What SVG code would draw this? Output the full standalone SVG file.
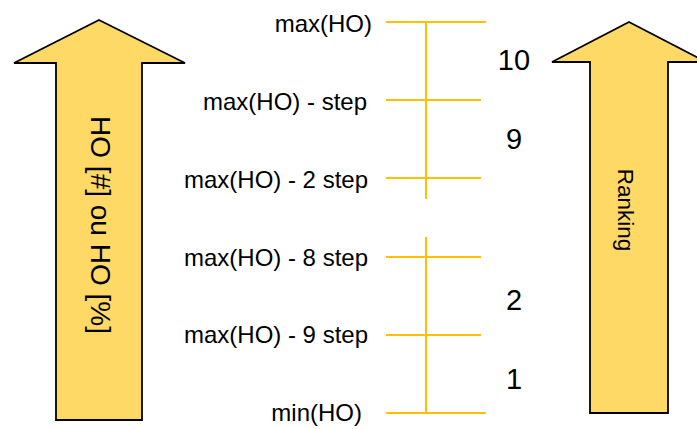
<svg xmlns="http://www.w3.org/2000/svg" width="697" height="429" viewBox="0 0 697 429">
  <style>
    .arrow { fill: #FFD966; stroke: #000000; stroke-width: 1.8; stroke-linejoin: miter; }
    .scale { stroke: #FFC000; stroke-width: 2; fill: none; }
    .lbl { font-family: "Liberation Sans", Arial, sans-serif; font-size: 24px; fill: #000000; text-anchor: end; }
    .num { font-family: "Liberation Sans", Arial, sans-serif; font-size: 29px; fill: #000000; text-anchor: middle; }
    .vert { font-family: "Liberation Sans", Arial, sans-serif; fill: #000000; text-anchor: middle; }
  </style>
  <rect width="697" height="429" fill="#ffffff"/>

  <!-- Left block arrow: quantity axis -->
  <g id="arrow-ho">
    <polygon class="arrow" points="99,20 185,63 142,63 142,420 56,420 56,63 14,63"/>
    <text class="vert" font-size="28" transform="translate(99,225) rotate(90)" x="0" y="8">HO [#] ou HO [%]</text>
  </g>

  <!-- Right block arrow: ranking axis -->
  <g id="arrow-ranking">
    <polygon class="arrow" points="629,22 706,62 668,62 668,413 590,413 590,62 552,62"/>
    <text class="vert" font-size="22.5" transform="translate(624,210) rotate(90)" x="0" y="6.5">Ranking</text>
  </g>

  <!-- Graduated scale -->
  <g id="scale-lines">
    <line class="scale" x1="426" y1="22" x2="426" y2="199"/>
    <line class="scale" x1="426" y1="237" x2="426" y2="413"/>
    <line class="scale" x1="386" y1="22" x2="486" y2="22"/>
    <line class="scale" x1="386" y1="100" x2="481" y2="100"/>
    <line class="scale" x1="386" y1="178" x2="481" y2="178"/>
    <line class="scale" x1="386" y1="257" x2="481" y2="257"/>
    <line class="scale" x1="386" y1="335" x2="481" y2="335"/>
    <line class="scale" x1="386" y1="413" x2="486" y2="413"/>
  </g>

  <!-- Tick labels -->
  <g id="tick-max"><text class="lbl" x="372" y="32">max(HO)</text></g>
  <g id="tick-step1"><text class="lbl" x="367" y="110">max(HO) - step</text></g>
  <g id="tick-step2"><text class="lbl" x="368" y="188">max(HO) - 2 step</text></g>
  <g id="tick-step8"><text class="lbl" x="368" y="266">max(HO) - 8 step</text></g>
  <g id="tick-step9"><text class="lbl" x="368" y="343">max(HO) - 9 step</text></g>
  <g id="tick-min"><text class="lbl" x="362" y="421">min(HO)</text></g>

  <!-- Rank numbers -->
  <g id="rank-10"><text class="num" x="514" y="70">10</text></g>
  <g id="rank-9"><text class="num" x="514" y="149">9</text></g>
  <g id="rank-2"><text class="num" x="514" y="310">2</text></g>
  <g id="rank-1"><text class="num" x="514" y="389">1</text></g>
</svg>
